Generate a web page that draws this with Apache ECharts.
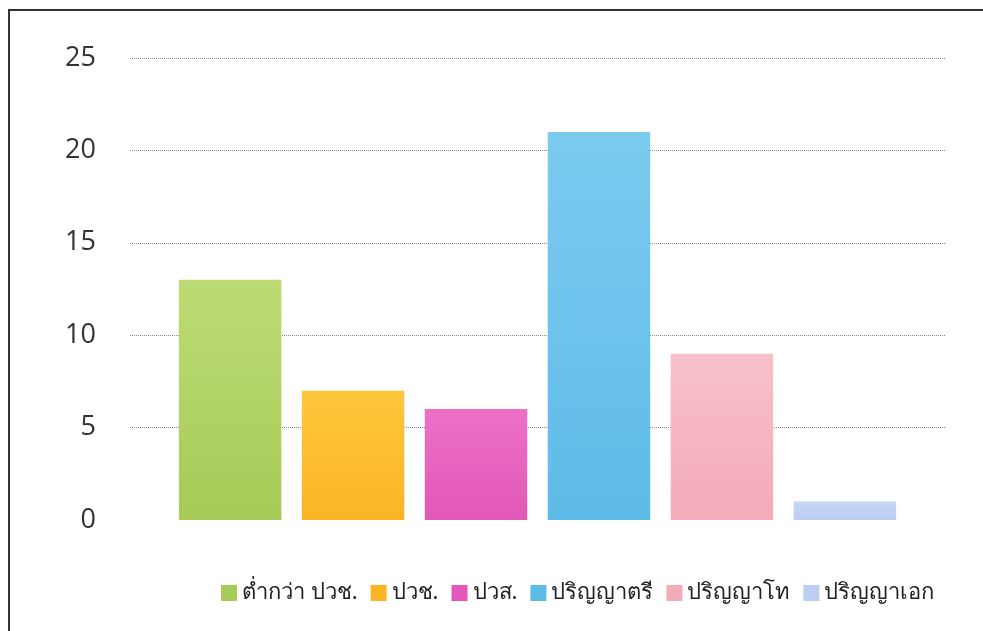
<!DOCTYPE html>
<html><head><meta charset="utf-8">
<script src="https://cdn.jsdelivr.net/npm/echarts@6/dist/echarts.min.js"></script>
<style>
html,body{margin:0;padding:0;background:#fff;overflow:hidden;}
#frame{position:absolute;left:8px;top:9px;width:1000px;height:700px;border-left:2px solid #333;border-top:2px solid #333;}
#chart{position:absolute;left:0;top:0;width:983px;height:631px;}
</style></head>
<body>
<div id="frame"></div>
<div id="chart"></div>
<script>
const seriesNames = ['ต่ำกว่า ปวช.', 'ปวช.', 'ปวส.', 'ปริญญาตรี', 'ปริญญาโท', 'ปริญญาเอก'];
const seriesValues = [13, 7, 6, 21, 9, 1];
const seriesColors = [
  ['#bddb74', '#a6cb58'],
  ['#fec73e', '#fbb424'],
  ['#ec70c6', '#e258b8'],
  ['#7ccbf0', '#5dbbe8'],
  ['#f8c0ca', '#f3abb8'],
  ['#c6d6f6', '#bccdf3']
];
const categories = [''];

const chart = echarts.init(document.getElementById('chart'), null, {renderer: 'canvas'});
const series = seriesNames.map((name, i) => ({
  name: name,
  type: 'bar',
  data: [seriesValues[i]],
  barGap: '20%',
  barCategoryGap: '12%',
  itemStyle: {
    color: new echarts.graphic.LinearGradient(0, 0, 0, 1, [
      {offset: 0, color: seriesColors[i][0]},
      {offset: 1, color: seriesColors[i][1]}
    ])
  }
}));

chart.setOption({
  animation: false,
  backgroundColor: 'transparent',
  grid: {left: 130, right: 38, top: 58, bottom: 111},
  legend: {
    bottom: 22,
    left: 216,
    itemWidth: 16,
    itemHeight: 16,
    itemGap: 13,
    icon: 'rect',
    textStyle: {fontSize: 22, color: '#222', fontFamily: 'Noto Sans, sans-serif'},
    data: seriesNames.map((n, i) => ({name: n, itemStyle: {color: seriesColors[i][1]}}))
  },
  xAxis: {
    type: 'category',
    data: categories,
    axisLine: {show: false},
    axisTick: {show: false},
    axisLabel: {show: false}
  },
  yAxis: {
    type: 'value',
    min: 0, max: 25, interval: 5,
    axisLine: {show: false},
    axisTick: {show: false},
    axisLabel: {fontSize: 27, color: '#333', margin: 34, fontFamily: 'Open Sans, sans-serif', align: 'right'},
    splitLine: {showMinLine: false, lineStyle: {type: 'dotted', color: '#888', width: 1}}
  },
  series: series
});
</script>
</body></html>
